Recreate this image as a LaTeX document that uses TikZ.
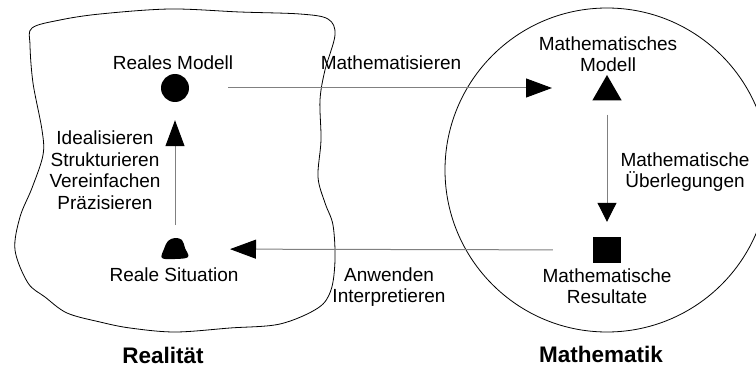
\documentclass[tikz,border=0pt]{standalone}
\usepackage{fontspec}
\setmainfont{Liberation Sans}
\usetikzlibrary{arrows.meta,shapes.geometric}

\begin{document}
\begin{tikzpicture}[x=1pt, y=-1pt,
    lbl/.style={font=\fontsize{19}{21.5}\selectfont, align=center, inner sep=0pt},
    title/.style={font=\fontsize{22.5}{24}\selectfont\bfseries, inner sep=0pt},
    conn/.style={draw=black!50, line width=1pt, -{Triangle[length=26pt, width=19pt, color=black]}},
    dot/.style={circle, fill=black, minimum size=28pt, inner sep=0pt},
    tri/.style={regular polygon, regular polygon sides=3, fill=black, minimum size=34pt, inner sep=0pt},
    box/.style={rectangle, fill=black, minimum width=28pt, minimum height=26pt, inner sep=0pt}]
    \useasboundingbox (0,0) rectangle (756,369);

    % Realitaet - left blob
    \draw[line width=0.8pt] plot[smooth cycle, tension=0.55] coordinates {
        (32,28) (60,20) (100,14) (170,9) (240,12) (300,14) (328,19) (335,35)
        (325,70) (320,100) (321,140) (318,177) (325,203) (333,225) (335,260)
        (331,290) (318,308) (280,324) (230,328) (175,332) (130,328) (100,322)
        (67,313) (45,297) (28,283) (15,250) (20,217) (32,188) (43,155)
        (42,130) (33,83) (30,45)};

    % Mathematik - right circle
    \begin{scope}
        \clip (0,0) rectangle (756,369);
        \draw[line width=0.8pt] (607,170) circle (162);
    \end{scope}

    % Objects
    \node[dot] (rm) at (175,88) {};
    \coordinate (rs) at (175,249);
    \fill[shift={(rs)}] plot[smooth cycle, tension=0.6] coordinates {
        (-13,9) (-11,0) (-7,-8) (0,-11) (7,-9) (10,-1) (13,8) (0,10)};
    \node[tri] (mm) at (607,92) {};
    \node[box] (mr) at (607,250) {};

    % Labels
    \node[lbl] (rmlbl) at (173,63) {Reales Modell};
    \node[lbl] (rslbl) at (174,275) {Reale Situation};
    \node[lbl] (mmlbl) at (608,54) {Mathematisches\\Modell};
    \node[lbl] (mrlbl) at (607,286) {Mathematische\\Resultate};
    \node[lbl] (idlbl) at (105,170) {Idealisieren\\Strukturieren\\Vereinfachen\\Präzisieren};
    \node[lbl] (malbl) at (391,63) {Mathematisieren};
    \node[lbl] (anlbl) at (389,287) {Anwenden\\Interpretieren};
    \node[lbl] (uelbl) at (685,172) {Mathematische\\Überlegungen};
    \node[title] (realtitle) at (163,355) {Realität};
    \node[title] (mathtitle) at (601,354) {Mathematik};

    % Arrows
    \draw[conn, shorten <=39pt, shorten >=55pt] (rm) -- (rm -| mm);
    \draw[conn, shorten <=14pt, shorten >=15pt,
          -{Triangle[length=19pt, width=19pt, color=black]}] (mm) -- (mr);
    \draw[conn, shorten <=40pt, shorten >=55pt] (mr) -- (rs);
    \draw[conn, shorten <=24pt, shorten >=18pt] (rs) -- (rm);
\end{tikzpicture}
\end{document}
